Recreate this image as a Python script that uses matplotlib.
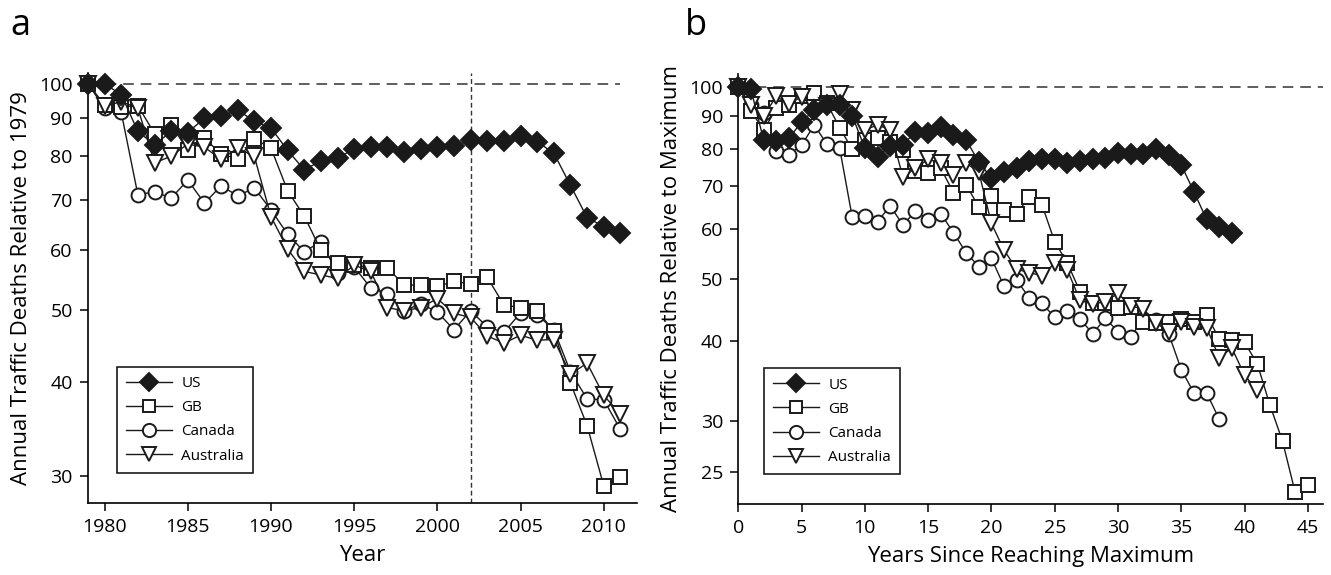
import matplotlib
matplotlib.use('Agg')
import matplotlib.pyplot as plt

plt.rcParams['font.family'] = ['Open Sans', 'DejaVu Sans']

# panel a: relative to 1979
years = list(range(1979, 2012))
us_a = [100, 100, 96.7, 86.4, 82.9, 86.4, 86.1, 90.0, 90.6, 92.3, 89.1, 87.3,
        81.5, 76.8, 78.9, 79.7, 81.8, 82.3, 82.3, 81.2, 81.8, 82.3, 82.5, 84.2,
        84.0, 84.0, 85.2, 83.7, 80.8, 73.2, 66.3, 64.5, 63.3]
gb_a = [100, 93.7, 93.2, 93.5, 85.8, 88.2, 81.5, 84.6, 80.6, 79.4, 84.4, 82.1,
        72.0, 66.6, 60.0, 57.6, 57.4, 56.8, 56.8, 53.9, 53.9, 53.7, 54.5, 54.1,
        55.2, 50.7, 50.3, 49.8, 46.8, 39.9, 35.0, 29.1, 29.9]
canada_a = [100, 92.8, 91.6, 71.1, 71.8, 70.4, 74.4, 69.3, 73.1, 70.9, 72.6,
            67.9, 63.0, 59.7, 61.6, 55.9, 57.0, 53.4, 52.5, 49.8, 50.9, 49.6,
            47.0, 49.8, 47.4, 46.6, 49.5, 49.2, 47.0, 41.3, 38.0, 37.9, 34.6]
australia_a = [100, 93.3, 94.7, 92.8, 78.4, 80.1, 83.1, 82.3, 79.3, 82.1, 80.0,
               66.5, 60.2, 56.2, 55.6, 55.0, 57.3, 56.2, 50.3, 49.8, 50.3, 51.7,
               49.4, 48.8, 46.1, 45.1, 46.2, 45.5, 45.6, 41.0, 42.4, 38.4, 36.3]

# panel b: relative to maximum, by years since maximum
us_b = [100, 99.0, 82.5, 82.3, 83.1, 88.0, 92.0, 93.5, 93.7, 90.1, 80.1, 77.7,
        80.8, 81.1, 85.0, 84.7, 86.6, 84.0, 82.5, 76.3, 71.9, 73.6, 74.5, 76.6,
        77.0, 77.0, 75.9, 76.6, 77.0, 77.3, 78.7, 78.5, 78.5, 79.8, 78.2, 75.4,
        68.5, 62.0, 60.3, 59.1]
gb_b = [100, 91.7, 85.4, 92.5, 93.6, 96.7, 97.8, 94.2, 86.3, 79.8, 82.5, 83.0,
        82.0, 79.6, 73.9, 73.2, 74.5, 68.3, 70.2, 64.9, 67.5, 64.1, 63.3, 67.3,
        65.3, 57.2, 53.0, 47.8, 45.9, 45.9, 45.0, 45.3, 42.9, 42.7, 42.8, 43.3,
        42.9, 44.0, 40.3, 40.2, 39.8, 36.9, 31.8, 27.9, 23.2, 23.8]
canada_b = [100, 93.5, 90.9, 79.2, 78.3, 81.0, 87.1, 81.3, 80.3, 62.5, 62.8,
            61.5, 65.1, 60.8, 63.8, 61.9, 63.3, 59.1, 55.0, 52.3, 53.9, 48.7,
            49.8, 46.7, 45.8, 43.6, 44.5, 43.3, 41.1, 43.4, 41.4, 40.6, 43.3,
            43.2, 41.1, 36.1, 33.2, 33.2, 30.2]
australia_b = [100, 93.6, 89.9, 96.6, 93.8, 96.5, 92.5, 93.4, 97.5, 91.9, 85.6,
               87.1, 85.6, 72.3, 74.5, 77.0, 75.9, 72.8, 75.9, 73.6, 61.1, 55.5,
               51.8, 51.2, 50.6, 53.0, 51.7, 46.3, 45.7, 46.1, 47.5, 45.4, 44.9,
               42.7, 41.4, 42.9, 42.1, 42.0, 37.7, 39.0, 35.4, 33.5]

labels = ['US', 'GB', 'Canada', 'Australia']
styles = [
    dict(marker='D', markersize=10, markerfacecolor='#1a1a1a', zorder=5),
    dict(marker='s', markersize=9.5, markerfacecolor='white', zorder=4),
    dict(marker='o', markersize=10, markerfacecolor='white', zorder=3),
    dict(marker='v', markersize=11, markerfacecolor='white', zorder=4),
]


def draw_series(ax, xs_list, ys_list):
    for xs, ys, lab, st in zip(xs_list, ys_list, labels, styles):
        ax.plot(xs, ys, color='#1a1a1a', linewidth=1.0,
                markeredgecolor='#1a1a1a', markeredgewidth=1.4,
                label=lab, clip_on=False, **st)


def style_axes(ax, yticks):
    ax.set_yscale('log')
    ax.spines['top'].set_visible(False)
    ax.spines['right'].set_visible(False)
    for s in ('left', 'bottom'):
        ax.spines[s].set_linewidth(1.2)
    ax.set_yticks(yticks)
    ax.set_yticklabels([str(t) for t in yticks])
    ax.minorticks_off()
    ax.tick_params(direction='out', length=6, width=1.1, labelsize=14, pad=5)


def add_legend(ax, anchor):
    leg = ax.legend(loc='lower left', bbox_to_anchor=anchor, borderaxespad=0,
                    fontsize=11, handlelength=3.0, handletextpad=0.6,
                    labelspacing=0.6, borderpad=0.6, fancybox=False,
                    framealpha=1, edgecolor='#1a1a1a')
    leg.get_frame().set_linewidth(1.2)
    for h in leg.legend_handles:
        h.set_markersize(h.get_markersize() * 0.95)


fig = plt.figure(figsize=(13.31, 5.75), dpi=100)
ax_a = fig.add_axes([0.0661, 0.1252, 0.4125, 0.748])
ax_b = fig.add_axes([0.5547, 0.1235, 0.4393, 0.748])

# panel a
ax_a.plot([1979, 2011], [100, 100], color='#333333', linewidth=1.1,
          dashes=(7, 4.5), zorder=1)
ax_a.axvline(2002, color='#333333', linewidth=1.0, dashes=(3.5, 2.2), zorder=1)
draw_series(ax_a, [years] * 4, [us_a, gb_a, canada_a, australia_a])
style_axes(ax_a, [30, 40, 50, 60, 70, 80, 90, 100])
ax_a.set_xlim(1979, 2012)
ax_a.set_ylim(27.6, 103.4)
ax_a.set_xticks(range(1980, 2011, 5))
ax_a.set_xlabel('Year', fontsize=16, labelpad=6)
ax_a.set_ylabel('Annual Traffic Deaths Relative to 1979', fontsize=16,
                labelpad=5)
add_legend(ax_a, (0.0534, 0.0705))

# panel b
ax_b.plot([0, 46.2], [100, 100], color='#333333', linewidth=1.1,
          dashes=(7, 4.5), zorder=1)
draw_series(ax_b,
            [range(len(us_b)), range(len(gb_b)), range(len(canada_b)),
             range(len(australia_b))],
            [us_b, gb_b, canada_b, australia_b])
style_axes(ax_b, [25, 30, 40, 50, 60, 70, 80, 90, 100])
ax_b.set_xlim(0, 46.2)
ax_b.set_ylim(22.25, 104.7)
ax_b.set_xticks(range(0, 46, 5))
ax_b.set_xlabel('Years Since Reaching Maximum', fontsize=16, labelpad=6)
ax_b.set_ylabel('Annual Traffic Deaths Relative to Maximum', fontsize=16,
                labelpad=5)
add_legend(ax_b, (0.0444, 0.069))

fig.text(0.008, 0.939, 'a', fontsize=26, va='baseline')
fig.text(0.5147, 0.939, 'b', fontsize=26, va='baseline')

fig.savefig('out.png', dpi=100)
